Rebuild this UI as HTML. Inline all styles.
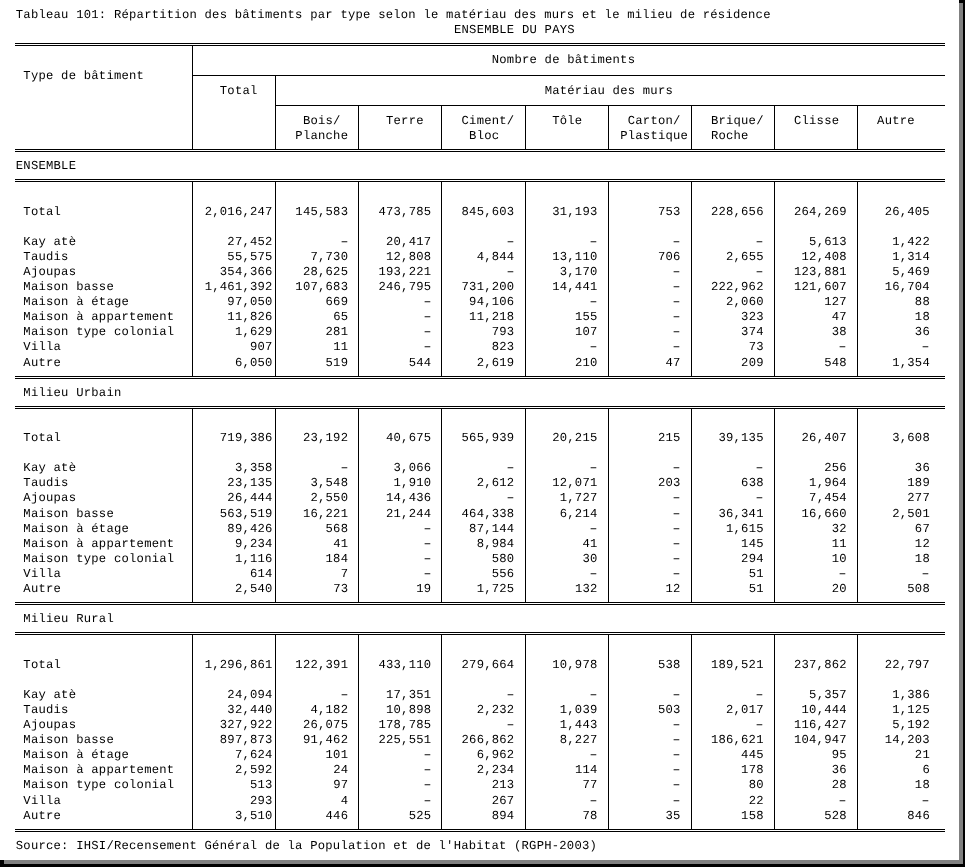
<!DOCTYPE html>
<html lang="fr"><head><meta charset="utf-8"><title>Tableau 101</title>
<style>
html,body{margin:0;padding:0;background:#fff;}
body{width:965px;height:867px;position:relative;overflow:hidden;font-family:"Liberation Mono","DejaVu Sans Mono",monospace;font-size:12.2px;color:#000;}
.t{position:absolute;white-space:pre;text-rendering:geometricPrecision;line-height:16px;height:16px;letter-spacing:0.235px;}
.h{position:absolute;height:1px;background:#000;}
.v{position:absolute;width:1px;background:#000;}
.b{position:absolute;}
.d{display:inline-block;transform:scaleX(1.7);}
</style></head><body>

<div class="h" style="left:15px;top:43px;width:930px"></div>
<div class="h" style="left:15px;top:45px;width:930px"></div>
<div class="h" style="left:15px;top:149px;width:930px"></div>
<div class="h" style="left:15px;top:151px;width:930px"></div>
<div class="h" style="left:15px;top:179px;width:930px"></div>
<div class="h" style="left:15px;top:181px;width:930px"></div>
<div class="h" style="left:15px;top:376px;width:930px"></div>
<div class="h" style="left:15px;top:378px;width:930px"></div>
<div class="h" style="left:15px;top:406px;width:930px"></div>
<div class="h" style="left:15px;top:408px;width:930px"></div>
<div class="h" style="left:15px;top:602px;width:930px"></div>
<div class="h" style="left:15px;top:604px;width:930px"></div>
<div class="h" style="left:15px;top:632px;width:930px"></div>
<div class="h" style="left:15px;top:634px;width:930px"></div>
<div class="h" style="left:15px;top:829px;width:930px"></div>
<div class="h" style="left:15px;top:831px;width:930px"></div>
<div class="h" style="left:192px;top:75px;width:753px"></div>
<div class="h" style="left:275px;top:105px;width:670px"></div>
<div class="v" style="left:192px;top:45px;height:104px"></div>
<div class="v" style="left:192px;top:181px;height:195px"></div>
<div class="v" style="left:192px;top:408px;height:194px"></div>
<div class="v" style="left:192px;top:634px;height:195px"></div>
<div class="v" style="left:275px;top:75px;height:74px"></div>
<div class="v" style="left:275px;top:181px;height:195px"></div>
<div class="v" style="left:275px;top:408px;height:194px"></div>
<div class="v" style="left:275px;top:634px;height:195px"></div>
<div class="v" style="left:358px;top:105px;height:44px"></div>
<div class="v" style="left:358px;top:181px;height:195px"></div>
<div class="v" style="left:358px;top:408px;height:194px"></div>
<div class="v" style="left:358px;top:634px;height:195px"></div>
<div class="v" style="left:441px;top:105px;height:44px"></div>
<div class="v" style="left:441px;top:181px;height:195px"></div>
<div class="v" style="left:441px;top:408px;height:194px"></div>
<div class="v" style="left:441px;top:634px;height:195px"></div>
<div class="v" style="left:525px;top:105px;height:44px"></div>
<div class="v" style="left:525px;top:181px;height:195px"></div>
<div class="v" style="left:525px;top:408px;height:194px"></div>
<div class="v" style="left:525px;top:634px;height:195px"></div>
<div class="v" style="left:608px;top:105px;height:44px"></div>
<div class="v" style="left:608px;top:181px;height:195px"></div>
<div class="v" style="left:608px;top:408px;height:194px"></div>
<div class="v" style="left:608px;top:634px;height:195px"></div>
<div class="v" style="left:691px;top:105px;height:44px"></div>
<div class="v" style="left:691px;top:181px;height:195px"></div>
<div class="v" style="left:691px;top:408px;height:194px"></div>
<div class="v" style="left:691px;top:634px;height:195px"></div>
<div class="v" style="left:774px;top:105px;height:44px"></div>
<div class="v" style="left:774px;top:181px;height:195px"></div>
<div class="v" style="left:774px;top:408px;height:194px"></div>
<div class="v" style="left:774px;top:634px;height:195px"></div>
<div class="v" style="left:857px;top:105px;height:44px"></div>
<div class="v" style="left:857px;top:181px;height:195px"></div>
<div class="v" style="left:857px;top:408px;height:194px"></div>
<div class="v" style="left:857px;top:634px;height:195px"></div>
<div class="t" style="left:15.82px;top:6.75px">Tableau 101: Répartition des bâtiments par type selon le matériau des murs et le milieu de résidence</div>
<div class="t" style="left:454.01px;top:21.75px">ENSEMBLE DU PAYS</div>
<div class="t" style="left:491.78px;top:51.75px">Nombre de bâtiments</div>
<div class="t" style="left:23.37px;top:67.75px">Type de bâtiment</div>
<div class="t" style="left:219.80px;top:82.75px">Total</div>
<div class="t" style="left:544.67px;top:82.75px">Matériau des murs</div>
<div class="t" style="left:302.91px;top:112.75px">Bois/</div>
<div class="t" style="left:295.35px;top:127.75px">Planche</div>
<div class="t" style="left:386.01px;top:112.75px">Terre</div>
<div class="t" style="left:461.56px;top:112.75px">Ciment/</div>
<div class="t" style="left:469.12px;top:127.75px">Bloc</div>
<div class="t" style="left:552.22px;top:112.75px">Tôle</div>
<div class="t" style="left:627.77px;top:112.75px">Carton/</div>
<div class="t" style="left:620.22px;top:127.75px">Plastique</div>
<div class="t" style="left:710.88px;top:112.75px">Brique/</div>
<div class="t" style="left:710.88px;top:127.75px">Roche</div>
<div class="t" style="left:793.98px;top:112.75px">Clisse</div>
<div class="t" style="left:877.09px;top:112.75px">Autre</div>
<div class="t" style="left:15.82px;top:157.75px">ENSEMBLE</div>
<div class="t" style="left:23.37px;top:203.75px">Total</div>
<div class="t" style="left:204.69px;top:203.75px">2,016,247</div>
<div class="t" style="left:295.35px;top:203.75px">145,583</div>
<div class="t" style="left:378.46px;top:203.75px">473,785</div>
<div class="t" style="left:461.56px;top:203.75px">845,603</div>
<div class="t" style="left:552.22px;top:203.75px">31,193</div>
<div class="t" style="left:657.99px;top:203.75px">753</div>
<div class="t" style="left:710.88px;top:203.75px">228,656</div>
<div class="t" style="left:793.98px;top:203.75px">264,269</div>
<div class="t" style="left:884.64px;top:203.75px">26,405</div>
<div class="t" style="left:23.37px;top:233.75px">Kay atè</div>
<div class="t" style="left:227.36px;top:233.75px">27,452</div>
<div class="t" style="left:340.68px;top:233.75px"><span class="d">-</span></div>
<div class="t" style="left:386.01px;top:233.75px">20,417</div>
<div class="t" style="left:506.89px;top:233.75px"><span class="d">-</span></div>
<div class="t" style="left:590.00px;top:233.75px"><span class="d">-</span></div>
<div class="t" style="left:673.10px;top:233.75px"><span class="d">-</span></div>
<div class="t" style="left:756.21px;top:233.75px"><span class="d">-</span></div>
<div class="t" style="left:809.09px;top:233.75px">5,613</div>
<div class="t" style="left:892.20px;top:233.75px">1,422</div>
<div class="t" style="left:23.37px;top:248.75px">Taudis</div>
<div class="t" style="left:227.36px;top:248.75px">55,575</div>
<div class="t" style="left:310.46px;top:248.75px">7,730</div>
<div class="t" style="left:386.01px;top:248.75px">12,808</div>
<div class="t" style="left:476.67px;top:248.75px">4,844</div>
<div class="t" style="left:552.22px;top:248.75px">13,110</div>
<div class="t" style="left:657.99px;top:248.75px">706</div>
<div class="t" style="left:725.99px;top:248.75px">2,655</div>
<div class="t" style="left:801.54px;top:248.75px">12,408</div>
<div class="t" style="left:892.20px;top:248.75px">1,314</div>
<div class="t" style="left:23.37px;top:263.75px">Ajoupas</div>
<div class="t" style="left:219.80px;top:263.75px">354,366</div>
<div class="t" style="left:302.91px;top:263.75px">28,625</div>
<div class="t" style="left:378.46px;top:263.75px">193,221</div>
<div class="t" style="left:506.89px;top:263.75px"><span class="d">-</span></div>
<div class="t" style="left:559.78px;top:263.75px">3,170</div>
<div class="t" style="left:673.10px;top:263.75px"><span class="d">-</span></div>
<div class="t" style="left:756.21px;top:263.75px"><span class="d">-</span></div>
<div class="t" style="left:793.98px;top:263.75px">123,881</div>
<div class="t" style="left:892.20px;top:263.75px">5,469</div>
<div class="t" style="left:23.37px;top:278.75px">Maison basse</div>
<div class="t" style="left:204.69px;top:278.75px">1,461,392</div>
<div class="t" style="left:295.35px;top:278.75px">107,683</div>
<div class="t" style="left:378.46px;top:278.75px">246,795</div>
<div class="t" style="left:461.56px;top:278.75px">731,200</div>
<div class="t" style="left:552.22px;top:278.75px">14,441</div>
<div class="t" style="left:673.10px;top:278.75px"><span class="d">-</span></div>
<div class="t" style="left:710.88px;top:278.75px">222,962</div>
<div class="t" style="left:793.98px;top:278.75px">121,607</div>
<div class="t" style="left:884.64px;top:278.75px">16,704</div>
<div class="t" style="left:23.37px;top:293.75px">Maison à étage</div>
<div class="t" style="left:227.36px;top:293.75px">97,050</div>
<div class="t" style="left:325.57px;top:293.75px">669</div>
<div class="t" style="left:423.79px;top:293.75px"><span class="d">-</span></div>
<div class="t" style="left:469.12px;top:293.75px">94,106</div>
<div class="t" style="left:590.00px;top:293.75px"><span class="d">-</span></div>
<div class="t" style="left:673.10px;top:293.75px"><span class="d">-</span></div>
<div class="t" style="left:725.99px;top:293.75px">2,060</div>
<div class="t" style="left:824.20px;top:293.75px">127</div>
<div class="t" style="left:914.86px;top:293.75px">88</div>
<div class="t" style="left:23.37px;top:308.75px">Maison à appartement</div>
<div class="t" style="left:227.36px;top:308.75px">11,826</div>
<div class="t" style="left:333.13px;top:308.75px">65</div>
<div class="t" style="left:423.79px;top:308.75px"><span class="d">-</span></div>
<div class="t" style="left:469.12px;top:308.75px">11,218</div>
<div class="t" style="left:574.89px;top:308.75px">155</div>
<div class="t" style="left:673.10px;top:308.75px"><span class="d">-</span></div>
<div class="t" style="left:741.10px;top:308.75px">323</div>
<div class="t" style="left:831.76px;top:308.75px">47</div>
<div class="t" style="left:914.86px;top:308.75px">18</div>
<div class="t" style="left:23.37px;top:323.75px">Maison type colonial</div>
<div class="t" style="left:234.91px;top:323.75px">1,629</div>
<div class="t" style="left:325.57px;top:323.75px">281</div>
<div class="t" style="left:423.79px;top:323.75px"><span class="d">-</span></div>
<div class="t" style="left:491.78px;top:323.75px">793</div>
<div class="t" style="left:574.89px;top:323.75px">107</div>
<div class="t" style="left:673.10px;top:323.75px"><span class="d">-</span></div>
<div class="t" style="left:741.10px;top:323.75px">374</div>
<div class="t" style="left:831.76px;top:323.75px">38</div>
<div class="t" style="left:914.86px;top:323.75px">36</div>
<div class="t" style="left:23.37px;top:338.75px">Villa</div>
<div class="t" style="left:250.02px;top:338.75px">907</div>
<div class="t" style="left:333.13px;top:338.75px">11</div>
<div class="t" style="left:423.79px;top:338.75px"><span class="d">-</span></div>
<div class="t" style="left:491.78px;top:338.75px">823</div>
<div class="t" style="left:590.00px;top:338.75px"><span class="d">-</span></div>
<div class="t" style="left:673.10px;top:338.75px"><span class="d">-</span></div>
<div class="t" style="left:748.65px;top:338.75px">73</div>
<div class="t" style="left:839.31px;top:338.75px"><span class="d">-</span></div>
<div class="t" style="left:922.42px;top:338.75px"><span class="d">-</span></div>
<div class="t" style="left:23.37px;top:354.75px">Autre</div>
<div class="t" style="left:234.91px;top:354.75px">6,050</div>
<div class="t" style="left:325.57px;top:354.75px">519</div>
<div class="t" style="left:408.68px;top:354.75px">544</div>
<div class="t" style="left:476.67px;top:354.75px">2,619</div>
<div class="t" style="left:574.89px;top:354.75px">210</div>
<div class="t" style="left:665.55px;top:354.75px">47</div>
<div class="t" style="left:741.10px;top:354.75px">209</div>
<div class="t" style="left:824.20px;top:354.75px">548</div>
<div class="t" style="left:892.20px;top:354.75px">1,354</div>
<div class="t" style="left:23.37px;top:384.75px">Milieu Urbain</div>
<div class="t" style="left:23.37px;top:429.75px">Total</div>
<div class="t" style="left:219.80px;top:429.75px">719,386</div>
<div class="t" style="left:302.91px;top:429.75px">23,192</div>
<div class="t" style="left:386.01px;top:429.75px">40,675</div>
<div class="t" style="left:461.56px;top:429.75px">565,939</div>
<div class="t" style="left:552.22px;top:429.75px">20,215</div>
<div class="t" style="left:657.99px;top:429.75px">215</div>
<div class="t" style="left:718.43px;top:429.75px">39,135</div>
<div class="t" style="left:801.54px;top:429.75px">26,407</div>
<div class="t" style="left:892.20px;top:429.75px">3,608</div>
<div class="t" style="left:23.37px;top:459.75px">Kay atè</div>
<div class="t" style="left:234.91px;top:459.75px">3,358</div>
<div class="t" style="left:340.68px;top:459.75px"><span class="d">-</span></div>
<div class="t" style="left:393.57px;top:459.75px">3,066</div>
<div class="t" style="left:506.89px;top:459.75px"><span class="d">-</span></div>
<div class="t" style="left:590.00px;top:459.75px"><span class="d">-</span></div>
<div class="t" style="left:673.10px;top:459.75px"><span class="d">-</span></div>
<div class="t" style="left:756.21px;top:459.75px"><span class="d">-</span></div>
<div class="t" style="left:824.20px;top:459.75px">256</div>
<div class="t" style="left:914.86px;top:459.75px">36</div>
<div class="t" style="left:23.37px;top:474.75px">Taudis</div>
<div class="t" style="left:227.36px;top:474.75px">23,135</div>
<div class="t" style="left:310.46px;top:474.75px">3,548</div>
<div class="t" style="left:393.57px;top:474.75px">1,910</div>
<div class="t" style="left:476.67px;top:474.75px">2,612</div>
<div class="t" style="left:552.22px;top:474.75px">12,071</div>
<div class="t" style="left:657.99px;top:474.75px">203</div>
<div class="t" style="left:741.10px;top:474.75px">638</div>
<div class="t" style="left:809.09px;top:474.75px">1,964</div>
<div class="t" style="left:907.31px;top:474.75px">189</div>
<div class="t" style="left:23.37px;top:489.75px">Ajoupas</div>
<div class="t" style="left:227.36px;top:489.75px">26,444</div>
<div class="t" style="left:310.46px;top:489.75px">2,550</div>
<div class="t" style="left:386.01px;top:489.75px">14,436</div>
<div class="t" style="left:506.89px;top:489.75px"><span class="d">-</span></div>
<div class="t" style="left:559.78px;top:489.75px">1,727</div>
<div class="t" style="left:673.10px;top:489.75px"><span class="d">-</span></div>
<div class="t" style="left:756.21px;top:489.75px"><span class="d">-</span></div>
<div class="t" style="left:809.09px;top:489.75px">7,454</div>
<div class="t" style="left:907.31px;top:489.75px">277</div>
<div class="t" style="left:23.37px;top:505.75px">Maison basse</div>
<div class="t" style="left:219.80px;top:505.75px">563,519</div>
<div class="t" style="left:302.91px;top:505.75px">16,221</div>
<div class="t" style="left:386.01px;top:505.75px">21,244</div>
<div class="t" style="left:461.56px;top:505.75px">464,338</div>
<div class="t" style="left:559.78px;top:505.75px">6,214</div>
<div class="t" style="left:673.10px;top:505.75px"><span class="d">-</span></div>
<div class="t" style="left:718.43px;top:505.75px">36,341</div>
<div class="t" style="left:801.54px;top:505.75px">16,660</div>
<div class="t" style="left:892.20px;top:505.75px">2,501</div>
<div class="t" style="left:23.37px;top:520.75px">Maison à étage</div>
<div class="t" style="left:227.36px;top:520.75px">89,426</div>
<div class="t" style="left:325.57px;top:520.75px">568</div>
<div class="t" style="left:423.79px;top:520.75px"><span class="d">-</span></div>
<div class="t" style="left:469.12px;top:520.75px">87,144</div>
<div class="t" style="left:590.00px;top:520.75px"><span class="d">-</span></div>
<div class="t" style="left:673.10px;top:520.75px"><span class="d">-</span></div>
<div class="t" style="left:725.99px;top:520.75px">1,615</div>
<div class="t" style="left:831.76px;top:520.75px">32</div>
<div class="t" style="left:914.86px;top:520.75px">67</div>
<div class="t" style="left:23.37px;top:535.75px">Maison à appartement</div>
<div class="t" style="left:234.91px;top:535.75px">9,234</div>
<div class="t" style="left:333.13px;top:535.75px">41</div>
<div class="t" style="left:423.79px;top:535.75px"><span class="d">-</span></div>
<div class="t" style="left:476.67px;top:535.75px">8,984</div>
<div class="t" style="left:582.44px;top:535.75px">41</div>
<div class="t" style="left:673.10px;top:535.75px"><span class="d">-</span></div>
<div class="t" style="left:741.10px;top:535.75px">145</div>
<div class="t" style="left:831.76px;top:535.75px">11</div>
<div class="t" style="left:914.86px;top:535.75px">12</div>
<div class="t" style="left:23.37px;top:550.75px">Maison type colonial</div>
<div class="t" style="left:234.91px;top:550.75px">1,116</div>
<div class="t" style="left:325.57px;top:550.75px">184</div>
<div class="t" style="left:423.79px;top:550.75px"><span class="d">-</span></div>
<div class="t" style="left:491.78px;top:550.75px">580</div>
<div class="t" style="left:582.44px;top:550.75px">30</div>
<div class="t" style="left:673.10px;top:550.75px"><span class="d">-</span></div>
<div class="t" style="left:741.10px;top:550.75px">294</div>
<div class="t" style="left:831.76px;top:550.75px">10</div>
<div class="t" style="left:914.86px;top:550.75px">18</div>
<div class="t" style="left:23.37px;top:565.75px">Villa</div>
<div class="t" style="left:250.02px;top:565.75px">614</div>
<div class="t" style="left:340.68px;top:565.75px">7</div>
<div class="t" style="left:423.79px;top:565.75px"><span class="d">-</span></div>
<div class="t" style="left:491.78px;top:565.75px">556</div>
<div class="t" style="left:590.00px;top:565.75px"><span class="d">-</span></div>
<div class="t" style="left:673.10px;top:565.75px"><span class="d">-</span></div>
<div class="t" style="left:748.65px;top:565.75px">51</div>
<div class="t" style="left:839.31px;top:565.75px"><span class="d">-</span></div>
<div class="t" style="left:922.42px;top:565.75px"><span class="d">-</span></div>
<div class="t" style="left:23.37px;top:580.75px">Autre</div>
<div class="t" style="left:234.91px;top:580.75px">2,540</div>
<div class="t" style="left:333.13px;top:580.75px">73</div>
<div class="t" style="left:416.23px;top:580.75px">19</div>
<div class="t" style="left:476.67px;top:580.75px">1,725</div>
<div class="t" style="left:574.89px;top:580.75px">132</div>
<div class="t" style="left:665.55px;top:580.75px">12</div>
<div class="t" style="left:748.65px;top:580.75px">51</div>
<div class="t" style="left:831.76px;top:580.75px">20</div>
<div class="t" style="left:907.31px;top:580.75px">508</div>
<div class="t" style="left:23.37px;top:610.75px">Milieu Rural</div>
<div class="t" style="left:23.37px;top:656.75px">Total</div>
<div class="t" style="left:204.69px;top:656.75px">1,296,861</div>
<div class="t" style="left:295.35px;top:656.75px">122,391</div>
<div class="t" style="left:378.46px;top:656.75px">433,110</div>
<div class="t" style="left:461.56px;top:656.75px">279,664</div>
<div class="t" style="left:552.22px;top:656.75px">10,978</div>
<div class="t" style="left:657.99px;top:656.75px">538</div>
<div class="t" style="left:710.88px;top:656.75px">189,521</div>
<div class="t" style="left:793.98px;top:656.75px">237,862</div>
<div class="t" style="left:884.64px;top:656.75px">22,797</div>
<div class="t" style="left:23.37px;top:686.75px">Kay atè</div>
<div class="t" style="left:227.36px;top:686.75px">24,094</div>
<div class="t" style="left:340.68px;top:686.75px"><span class="d">-</span></div>
<div class="t" style="left:386.01px;top:686.75px">17,351</div>
<div class="t" style="left:506.89px;top:686.75px"><span class="d">-</span></div>
<div class="t" style="left:590.00px;top:686.75px"><span class="d">-</span></div>
<div class="t" style="left:673.10px;top:686.75px"><span class="d">-</span></div>
<div class="t" style="left:756.21px;top:686.75px"><span class="d">-</span></div>
<div class="t" style="left:809.09px;top:686.75px">5,357</div>
<div class="t" style="left:892.20px;top:686.75px">1,386</div>
<div class="t" style="left:23.37px;top:701.75px">Taudis</div>
<div class="t" style="left:227.36px;top:701.75px">32,440</div>
<div class="t" style="left:310.46px;top:701.75px">4,182</div>
<div class="t" style="left:386.01px;top:701.75px">10,898</div>
<div class="t" style="left:476.67px;top:701.75px">2,232</div>
<div class="t" style="left:559.78px;top:701.75px">1,039</div>
<div class="t" style="left:657.99px;top:701.75px">503</div>
<div class="t" style="left:725.99px;top:701.75px">2,017</div>
<div class="t" style="left:801.54px;top:701.75px">10,444</div>
<div class="t" style="left:892.20px;top:701.75px">1,125</div>
<div class="t" style="left:23.37px;top:716.75px">Ajoupas</div>
<div class="t" style="left:219.80px;top:716.75px">327,922</div>
<div class="t" style="left:302.91px;top:716.75px">26,075</div>
<div class="t" style="left:378.46px;top:716.75px">178,785</div>
<div class="t" style="left:506.89px;top:716.75px"><span class="d">-</span></div>
<div class="t" style="left:559.78px;top:716.75px">1,443</div>
<div class="t" style="left:673.10px;top:716.75px"><span class="d">-</span></div>
<div class="t" style="left:756.21px;top:716.75px"><span class="d">-</span></div>
<div class="t" style="left:793.98px;top:716.75px">116,427</div>
<div class="t" style="left:892.20px;top:716.75px">5,192</div>
<div class="t" style="left:23.37px;top:731.75px">Maison basse</div>
<div class="t" style="left:219.80px;top:731.75px">897,873</div>
<div class="t" style="left:302.91px;top:731.75px">91,462</div>
<div class="t" style="left:378.46px;top:731.75px">225,551</div>
<div class="t" style="left:461.56px;top:731.75px">266,862</div>
<div class="t" style="left:559.78px;top:731.75px">8,227</div>
<div class="t" style="left:673.10px;top:731.75px"><span class="d">-</span></div>
<div class="t" style="left:710.88px;top:731.75px">186,621</div>
<div class="t" style="left:793.98px;top:731.75px">104,947</div>
<div class="t" style="left:884.64px;top:731.75px">14,203</div>
<div class="t" style="left:23.37px;top:746.75px">Maison à étage</div>
<div class="t" style="left:234.91px;top:746.75px">7,624</div>
<div class="t" style="left:325.57px;top:746.75px">101</div>
<div class="t" style="left:423.79px;top:746.75px"><span class="d">-</span></div>
<div class="t" style="left:476.67px;top:746.75px">6,962</div>
<div class="t" style="left:590.00px;top:746.75px"><span class="d">-</span></div>
<div class="t" style="left:673.10px;top:746.75px"><span class="d">-</span></div>
<div class="t" style="left:741.10px;top:746.75px">445</div>
<div class="t" style="left:831.76px;top:746.75px">95</div>
<div class="t" style="left:914.86px;top:746.75px">21</div>
<div class="t" style="left:23.37px;top:761.75px">Maison à appartement</div>
<div class="t" style="left:234.91px;top:761.75px">2,592</div>
<div class="t" style="left:333.13px;top:761.75px">24</div>
<div class="t" style="left:423.79px;top:761.75px"><span class="d">-</span></div>
<div class="t" style="left:476.67px;top:761.75px">2,234</div>
<div class="t" style="left:574.89px;top:761.75px">114</div>
<div class="t" style="left:673.10px;top:761.75px"><span class="d">-</span></div>
<div class="t" style="left:741.10px;top:761.75px">178</div>
<div class="t" style="left:831.76px;top:761.75px">36</div>
<div class="t" style="left:922.42px;top:761.75px">6</div>
<div class="t" style="left:23.37px;top:776.75px">Maison type colonial</div>
<div class="t" style="left:250.02px;top:776.75px">513</div>
<div class="t" style="left:333.13px;top:776.75px">97</div>
<div class="t" style="left:423.79px;top:776.75px"><span class="d">-</span></div>
<div class="t" style="left:491.78px;top:776.75px">213</div>
<div class="t" style="left:582.44px;top:776.75px">77</div>
<div class="t" style="left:673.10px;top:776.75px"><span class="d">-</span></div>
<div class="t" style="left:748.65px;top:776.75px">80</div>
<div class="t" style="left:831.76px;top:776.75px">28</div>
<div class="t" style="left:914.86px;top:776.75px">18</div>
<div class="t" style="left:23.37px;top:792.75px">Villa</div>
<div class="t" style="left:250.02px;top:792.75px">293</div>
<div class="t" style="left:340.68px;top:792.75px">4</div>
<div class="t" style="left:423.79px;top:792.75px"><span class="d">-</span></div>
<div class="t" style="left:491.78px;top:792.75px">267</div>
<div class="t" style="left:590.00px;top:792.75px"><span class="d">-</span></div>
<div class="t" style="left:673.10px;top:792.75px"><span class="d">-</span></div>
<div class="t" style="left:748.65px;top:792.75px">22</div>
<div class="t" style="left:839.31px;top:792.75px"><span class="d">-</span></div>
<div class="t" style="left:922.42px;top:792.75px"><span class="d">-</span></div>
<div class="t" style="left:23.37px;top:807.75px">Autre</div>
<div class="t" style="left:234.91px;top:807.75px">3,510</div>
<div class="t" style="left:325.57px;top:807.75px">446</div>
<div class="t" style="left:408.68px;top:807.75px">525</div>
<div class="t" style="left:491.78px;top:807.75px">894</div>
<div class="t" style="left:582.44px;top:807.75px">78</div>
<div class="t" style="left:665.55px;top:807.75px">35</div>
<div class="t" style="left:741.10px;top:807.75px">158</div>
<div class="t" style="left:824.20px;top:807.75px">528</div>
<div class="t" style="left:907.31px;top:807.75px">846</div>
<div class="t" style="left:15.82px;top:837.75px">Source: IHSI/Recensement Général de la Population et de l'Habitat (RGPH-2003)</div>
<div class="b" style="left:959px;top:0;width:6px;height:3px;background:#000"></div>
<div class="b" style="left:959px;top:3px;width:4px;height:861px;background:#808080"></div>
<div class="b" style="left:963px;top:0;width:2px;height:867px;background:#000"></div>
<div class="b" style="left:0;top:860px;width:963px;height:4px;background:#808080"></div>
<div class="b" style="left:0;top:860px;width:4px;height:4px;background:#000"></div>
<div class="b" style="left:0;top:864px;width:965px;height:3px;background:#000"></div>
</body></html>
